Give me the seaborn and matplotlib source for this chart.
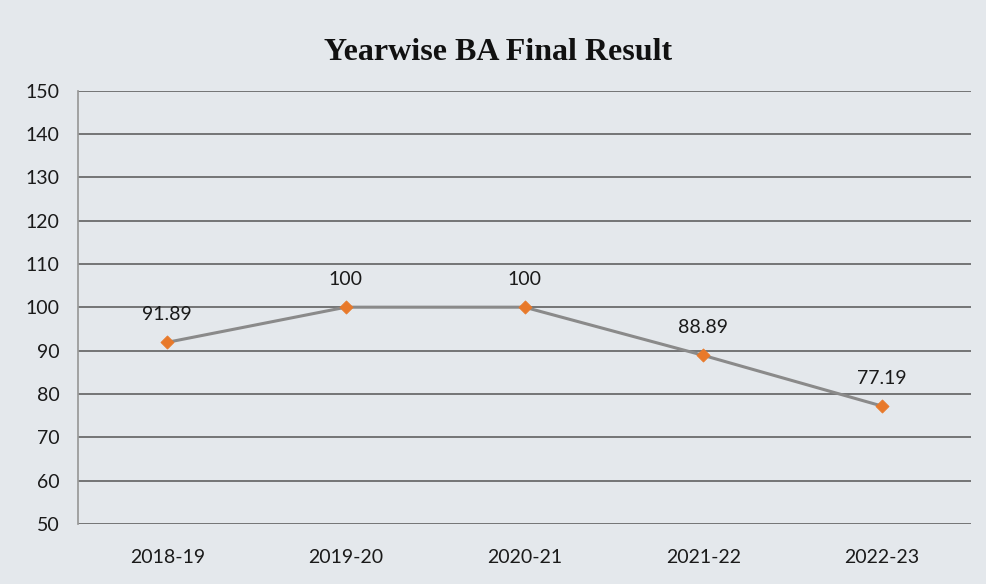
import matplotlib.pyplot as plt
import seaborn as sns
import pandas as pd

# data
YEARS = ["2018-19", "2019-20", "2020-21", "2021-22", "2022-23"]
RESULT = [91.89, 100, 100, 88.89, 77.19]
LABELS = ["91.89", "100", "100", "88.89", "77.19"]

df = pd.DataFrame({"year": YEARS, "result": RESULT})

sns.set_theme(style="white")
plt.rcParams['font.family'] = ['Lato', 'DejaVu Sans']

BG = '#e4e8ec'
fig, ax = plt.subplots(figsize=(9.86, 5.84), dpi=100)
fig.patch.set_facecolor(BG)
ax.set_facecolor(BG)

sns.lineplot(data=df, x="year", y="result", ax=ax, sort=False,
             color='#8a8a8a', lw=2.2, zorder=3)
sns.scatterplot(data=df, x="year", y="result", ax=ax, marker='D', s=45,
                color='#e8792a', edgecolor='#e8792a', zorder=4)

for i, (v, lab) in enumerate(zip(RESULT, LABELS)):
    ax.annotate(lab, (i, v), xytext=(0, 14), textcoords='offset points',
                ha='center', va='bottom', fontsize=14, color='#1a1a1a')

ax.set_ylim(50, 150)
ax.set_yticks(range(50, 151, 10))
ax.set_xlim(-0.5, len(YEARS) - 0.5)
ax.yaxis.grid(True, color='#555555', lw=1.1)
ax.set_axisbelow(True)
for s in ['top', 'right', 'bottom']:
    ax.spines[s].set_visible(False)
ax.spines['left'].set_color('#999999')
ax.tick_params(axis='y', length=5, color='#999999', labelsize=14, labelcolor='#1a1a1a', pad=8)
ax.tick_params(axis='x', length=0, labelsize=14, labelcolor='#1a1a1a', pad=18)
ax.set_xlabel('')
ax.set_ylabel('')

# title sits centred on the whole chart, not on the plot area
ax.set_title('Yearwise BA Final Result', fontsize=23, fontweight='bold',
             family='Liberation Serif', color='#111111', pad=22, x=0.47)

plt.subplots_adjust(left=0.079, right=0.985, top=0.845, bottom=0.103)
plt.savefig('out.png', dpi=100, facecolor=BG)
plt.close()
